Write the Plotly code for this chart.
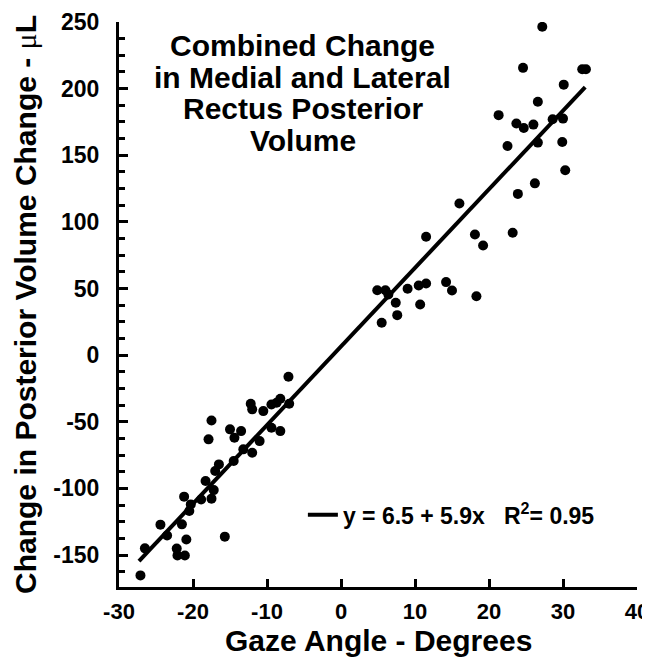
import plotly.graph_objects as go

# =========================
# DATA
# =========================
gaze_angle = [
    -27.1, -26.5, -24.4, -23.5, -22.2, -22.1, -21.5, -21.2, -21.1, -20.9,
    -20.5, -20.3, -18.9, -18.3, -17.9, -17.5, -17.5, -17.2, -17.0, -16.5,
    -15.7, -15.0, -14.5, -14.4, -13.5, -13.2, -12.2, -12.0, -12.0, -11.0,
    -10.5, -9.4, -9.4, -8.7, -8.2, -8.2, -7.1, -7.0,
    4.9, 5.5, 6.0, 6.4, 7.4, 7.6, 9.0, 10.5, 10.7, 11.5, 11.5, 14.2, 15.0,
    16.0, 18.1, 18.3, 19.2,
    21.3, 22.5, 23.2, 23.7, 23.9, 24.6, 24.7, 26.0, 26.2, 26.6, 26.6, 27.2,
    28.6, 29.9, 30.0, 30.1, 30.3, 32.6, 33.1,
]
volume_change = [
    -165.3, -145.0, -127.2, -135.3, -145.2, -150.3, -127.0, -106.2, -150.3, -138.3,
    -117.0, -112.0, -108.3, -94.5, -63.2, -49.0, -107.7, -101.3, -87.0, -82.0,
    -136.2, -55.7, -79.5, -62.0, -57.0, -70.7, -36.5, -40.7, -73.2, -64.5,
    -42.0, -37.0, -54.5, -35.7, -32.7, -57.0, -16.2, -36.5,
    48.7, 24.3, 48.7, 45.5, 39.3, 30.0, 49.8, 52.3, 38.0, 53.8, 88.8, 54.8, 48.5,
    113.8, 90.5, 44.2, 82.3,
    180.1, 157.0, 91.8, 173.8, 121.0, 215.6, 170.5, 173.0, 128.9, 190.1, 159.5, 246.4,
    177.0, 160.0, 177.5, 203.0, 138.7, 214.5, 214.5,
]

# regression: y = 6.5 + 5.9x, drawn over the span of the data
fit_intercept = 6.5
fit_slope = 5.9
fit_x = [-27.3, 33.0]
fit_y = [fit_intercept + fit_slope * x for x in fit_x]

x_ticks = [-30, -20, -10, 0, 10, 20, 30, 40]
y_ticks = [-150, -100, -50, 0, 50, 100, 150, 200, 250]

title_lines = ["Combined Change", "in Medial and Lateral", "Rectus Posterior", "Volume"]
title_line_y = [232.5, 208.7, 184.9, 161.1]

FONT = "Liberation Sans, Arial, sans-serif"


def hyphen_labels(vals):
    # the figure uses a plain hyphen for negatives, not a unicode minus
    return [str(v) for v in vals]


fig = go.Figure()

fig.add_trace(go.Scatter(
    x=gaze_angle, y=volume_change, mode="markers",
    marker=dict(color="black", size=10),
    showlegend=False,
))

fig.add_trace(go.Scatter(
    x=fit_x, y=fit_y, mode="lines",
    line=dict(color="black", width=4),
    name="y = 6.5 + 5.9x   R<sup>2</sup>= 0.95",
    showlegend=True,
))

for txt, yy in zip(title_lines, title_line_y):
    fig.add_annotation(
        x=-5.2, y=yy, xref="x", yref="y", text=txt, showarrow=False,
        font=dict(family=FONT, size=30, color="black", weight="bold"),
        xanchor="center", yanchor="middle",
    )

# x-axis title as an annotation so it sits right under the tick labels
fig.add_annotation(
    x=0.5, y=-0.095, xref="paper", yref="paper", text="Gaze Angle - Degrees",
    showarrow=False, xanchor="center", yanchor="middle",
    font=dict(family=FONT, size=30, color="black", weight="bold"),
)

# the page body adds an 8px margin, so the figure is 8px smaller each way
fig.update_layout(
    width=642, height=651,
    margin=dict(l=111, r=13, t=14, b=72, autoexpand=False),
    paper_bgcolor="white", plot_bgcolor="white",
    font=dict(family=FONT, color="black", weight="bold"),
    legend=dict(
        x=0.355, y=0.128, xanchor="left", yanchor="middle",
        bgcolor="rgba(0,0,0,0)", borderwidth=0,
        font=dict(family=FONT, size=23, color="black", weight="bold"),
    ),
    xaxis=dict(
        range=[-30, 40], tickmode="array",
        tickvals=x_ticks, ticktext=hyphen_labels(x_ticks),
        showgrid=False, zeroline=False,
        showline=True, linecolor="black", linewidth=3,
        ticks="inside", ticklen=8, tickwidth=2.5, tickcolor="black",
        tickfont=dict(size=22, weight="bold"),
        ticklabelstandoff=3, ticklabeloverflow="allow",
    ),
    yaxis=dict(
        range=[-174, 250], tickmode="array",
        tickvals=y_ticks, ticktext=hyphen_labels(y_ticks),
        showgrid=False, zeroline=False,
        showline=True, linecolor="black", linewidth=3,
        ticks="inside", ticklen=9, tickwidth=2.5, tickcolor="black",
        minor=dict(ticks="inside", dtick=12.5, tick0=0, ticklen=6,
                   tickwidth=2.5, tickcolor="black"),
        tickfont=dict(size=23, weight="bold"),
        ticklabelstandoff=12, ticklabeloverflow="allow",
        title=dict(text="Change in Posterior Volume Change - "
                        "<span style='font-family:Liberation Serif;font-weight:normal'>μ</span>L",
                   font=dict(size=30, weight="bold"), standoff=8),
    ),
)

fig.write_html("out.html")
